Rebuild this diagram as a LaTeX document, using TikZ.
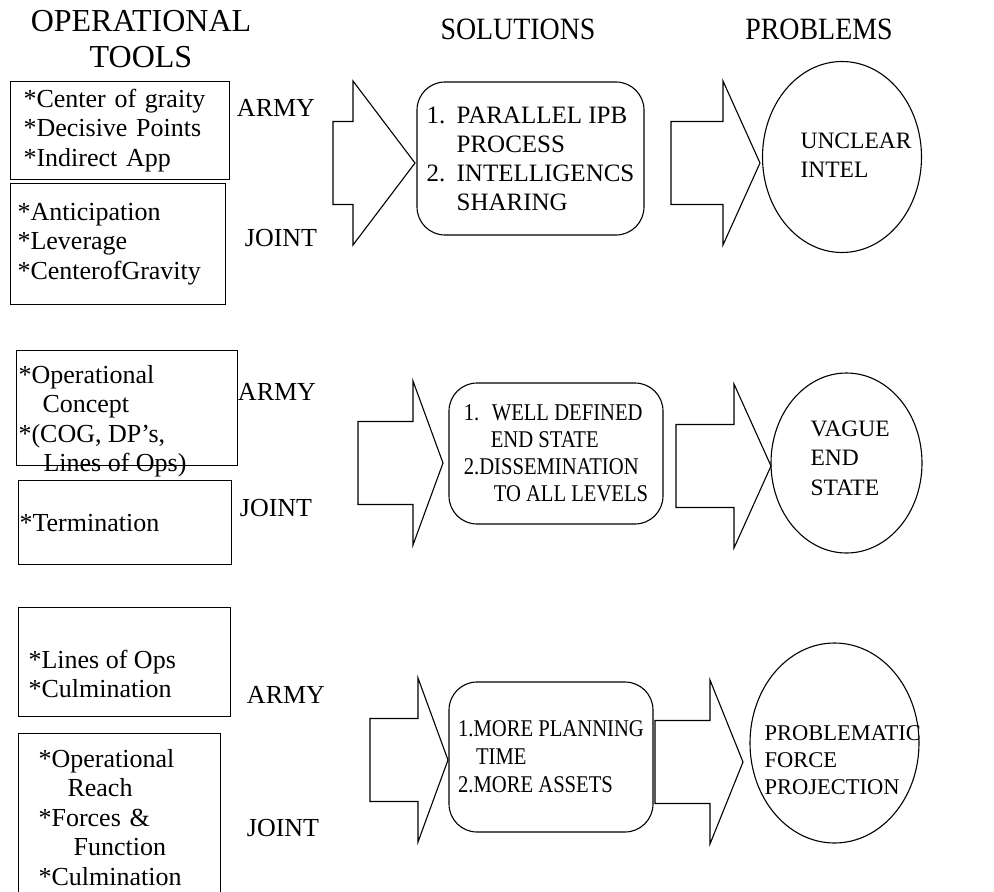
\documentclass[tikz,border=0pt]{standalone}
\usepackage{fontspec}
\setmainfont{Liberation Serif}
\newfontfamily\narrowserif{Liberation Serif}[FakeStretch=0.86]
\newfontfamily\headserif{Liberation Serif}[FakeStretch=0.9]
\usetikzlibrary{shapes.geometric}

\begin{document}
\begin{tikzpicture}[
  x=1pt, y=-1pt,
  line width=1.1pt,
  head/.style={align=center, font=\fontsize{32}{36}\selectfont},
  headnarrow/.style={font=\headserif\fontsize{31}{36}\selectfont},
  toolbox/.style={draw, anchor=north west, align=left, inner ysep=0pt, font=\fontsize{26}{29.5}\selectfont},
  tooltext/.style={anchor=west, align=left, inner sep=0pt, font=\fontsize{26}{29.5}\selectfont},
  level/.style={font=\fontsize{26}{30}\selectfont},
  solution/.style={draw, rounded corners=28pt, align=left},
  problem/.style={draw, ellipse, inner sep=0pt},
  probtext/.style={anchor=west, align=left, inner sep=0pt, font=\fontsize{23.5}{29.5}\selectfont},
  fatarrow/.style={draw, line join=miter}
]
\fill[white] (0,0) rectangle (994,892);
\useasboundingbox (0,0) rectangle (994,892);

% column heads
\node[head] (toolshead) at (141,39) {OPERATIONAL\\TOOLS};
\node[headnarrow] (solhead) at (518,29) {SOLUTIONS};
\node[headnarrow] (probhead) at (819,29) {PROBLEMS};

% operational tools
\node[toolbox, minimum width=219pt, minimum height=98pt, text width=193pt, inner xsep=13pt] (armyA) at (10,81) {*Center of graity\\{}*Decisive Points\\{}*Indirect App};
\node[toolbox, minimum width=215pt, minimum height=121pt, text width=201pt, inner xsep=7pt] (jointA) at (10,183) {*Anticipation\\{}*Leverage\\{}*CenterofGravity};
\node[toolbox, minimum width=221pt, minimum height=115pt] (armyB) at (16,350) {};
\node[tooltext] (armyBtext) at (18,421) {*Operational\\\hspace*{24pt}Concept\\{}*(COG, DP’s,\\\hspace*{25pt}Lines of Ops)};
\node[toolbox, minimum width=213pt, minimum height=84pt, text width=211pt, inner xsep=1pt] (jointB) at (18,480) {*Termination};
\node[toolbox, minimum width=212pt, minimum height=109pt] (armyC) at (18,607) {};
\node[tooltext] (armyCtext) at (28,674) {*Lines of Ops\\{}*Culmination};
\node[toolbox, minimum width=202pt, minimum height=168pt, text width=162pt, inner xsep=20pt] (jointC) at (18,733) {*Operational\\\hspace*{29pt}Reach\\{}*Forces \&\\\hspace*{35pt}Function\\{}*Culmination};

\node[level] (armyAlbl) at (276,108) {ARMY};
\node[level] (jointAlbl) at (281,238) {JOINT};
\node[level] (armyBlbl) at (277,392) {ARMY};
\node[level] (jointBlbl) at (276,508) {JOINT};
\node[level] (armyClbl) at (286,695) {ARMY};
\node[level] (jointClbl) at (283,828) {JOINT};

% solutions
\node[solution, minimum width=227pt, minimum height=153pt, font=\fontsize{25}{29}\selectfont] (solA) at (530.5,158.5) {\makebox[30pt][l]{1.}PARALLEL IPB\\\hspace*{30pt}PROCESS\\\makebox[30pt][l]{2.}INTELLIGENCS\\\hspace*{30pt}SHARING};
\node[solution, minimum width=214pt, minimum height=141pt, font=\narrowserif\fontsize{24}{27}\selectfont] (solB) at (556,453.5) {\makebox[28pt][l]{1.}WELL DEFINED\\\hspace*{27pt}END STATE\\2.DISSEMINATION\\\hspace*{30pt}TO ALL LEVELS};
\node[solution, minimum width=204pt, minimum height=150pt, font=\narrowserif\fontsize{24}{28}\selectfont] (solC) at (551,757) {1.MORE PLANNING\\\hspace*{18pt}TIME\\2.MORE ASSETS};

% problems
\node[problem, minimum width=159pt, minimum height=191pt] (probA) at (842,157) {};
\node[probtext] (probAtext) at (800,155) {UNCLEAR\\INTEL};
\node[problem, minimum width=151pt, minimum height=180pt] (probB) at (846.5,463) {};
\node[probtext] (probBtext) at (810,458) {VAGUE\\END\\STATE};
\node[problem, minimum width=169pt, minimum height=200pt] (probC) at (834.5,743) {};
\node[probtext, font=\fontsize{22.5}{27}\selectfont] (probCtext) at (764,760) {PROBLEMATIC\\FORCE\\PROJECTION};

% block arrows: tail, head base, tip, middle
\foreach \tail/\base/\tip/\mid in {333/353/415/163, 671/723/760/163, 358/413/443/463, 676/734/771/466, 370/418/448/760, 655/710/743/762}
  \draw[fatarrow] (\tail,\mid-41.5) -- (\base,\mid-41.5) -- (\base,\mid-82) -- (\tip,\mid)
    -- (\base,\mid+82) -- (\base,\mid+41.5) -- (\tail,\mid+41.5) -- cycle;
\end{tikzpicture}
\end{document}
